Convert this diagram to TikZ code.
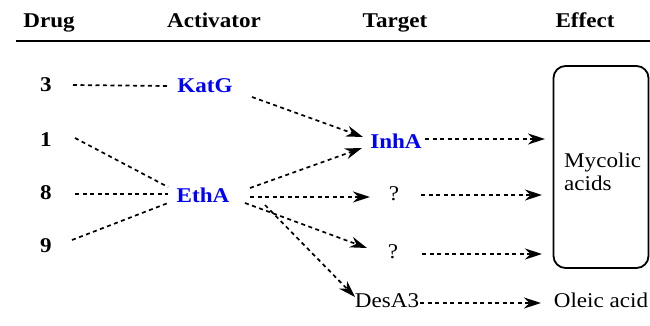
\documentclass[tikz,border=0pt]{standalone}
\usepackage{fontspec}
\setmainfont[FakeStretch=1.1]{Liberation Serif}
\usetikzlibrary{arrows.meta}
\begin{document}
\begin{tikzpicture}[x=1pt,y=-1pt,
  hdr/.style={font=\fontsize{21}{23}\selectfont\bfseries, inner sep=0pt, anchor=base},
  drug/.style={font=\fontsize{21}{23}\selectfont\bfseries, inner sep=0pt},
  prot/.style={font=\fontsize{21}{23}\selectfont\bfseries, text=blue, inner sep=0pt},
  plain/.style={font=\fontsize{21}{23}\selectfont, inner sep=0pt},
  dl/.style={dash pattern=on 4pt off 3.5pt, line width=1.7pt},
  da/.style={dl, -{Stealth[length=17pt,width=11pt]}}]
\useasboundingbox (0,0) rectangle (650,326);
% headers
\node[hdr] (hd) at (49,28) {Drug};
\node[hdr] (ha) at (214,28) {Activator};
\node[hdr] (ht) at (395,28) {Target};
\node[hdr] (he) at (585,28) {Effect};
\coordinate (rl) at (16,41);
\coordinate (rr) at (650,41);
\draw[line width=2.2pt] (rl) -- (rr);
% drugs
\node[drug] (n3) at (46,85) {3};
\node[drug] (n1) at (46,140) {1};
\node[drug] (n8) at (46,193) {8};
\node[drug] (n9) at (46,246) {9};
% activators
\node[prot] (katg) at (205,86) {KatG};
\node[prot] (etha) at (203,195) {EthA};
% targets
\node[prot] (inha) at (396,141) {InhA};
\node[plain] (q1) at (394,194) {?};
\node[plain] (q2) at (393,252) {?};
\node[plain] (desa) at (387,301) {DesA3};
% effect
\node[draw, line width=1.8pt, rounded corners=12pt, minimum width=95pt, minimum height=202pt, inner sep=0pt] (box) at (601,167) {};
\node[plain, align=left, anchor=west] (myc) at (564,172) {Mycolic\\acids};
\node[plain] (ole) at (601,300) {Oleic acid};
% drug -- activator
\draw[dl] ([shift={(27,0)}]n3.center) -- ([shift={(-38,0)}]katg.center);
\draw[dl] ([shift={(29,-2)}]n1.center) -- ([shift={(-35,-8)}]etha.center);
\draw[dl] ([shift={(29,1)}]n8.center) -- ([shift={(-35,-1)}]etha.center);
\draw[dl] ([shift={(26,-6)}]n9.center) -- ([shift={(-35,8)}]etha.center);
% activator -> target
\draw[da] ([shift={(47,11)}]katg.center) -- ([shift={(-33,-4)}]inha.center);
\draw[da] ([shift={(47,-7)}]etha.center) -- ([shift={(-34,7)}]inha.center);
\draw[da] ([shift={(47,2)}]etha.center) -- ([shift={(-24,3)}]q1.center);
\draw[da] ([shift={(42,8)}]etha.center) -- ([shift={(-26,-4)}]q2.center);
\draw[da] ([shift={(62,10)}]etha.center) -- ([shift={(-32,-4)}]desa.center);
% target -> effect
\draw[da] ([shift={(29,-2)}]inha.center) -- ([shift={(-56,-28)}]box.center);
\draw[da] ([shift={(27,1)}]q1.center) -- ([shift={(-59,28)}]box.center);
\draw[da] ([shift={(29,2)}]q2.center) -- ([shift={(-59,87)}]box.center);
\draw[da] ([shift={(33,2)}]desa.center) -- ([shift={(-60,3)}]ole.center);
\end{tikzpicture}
\end{document}
